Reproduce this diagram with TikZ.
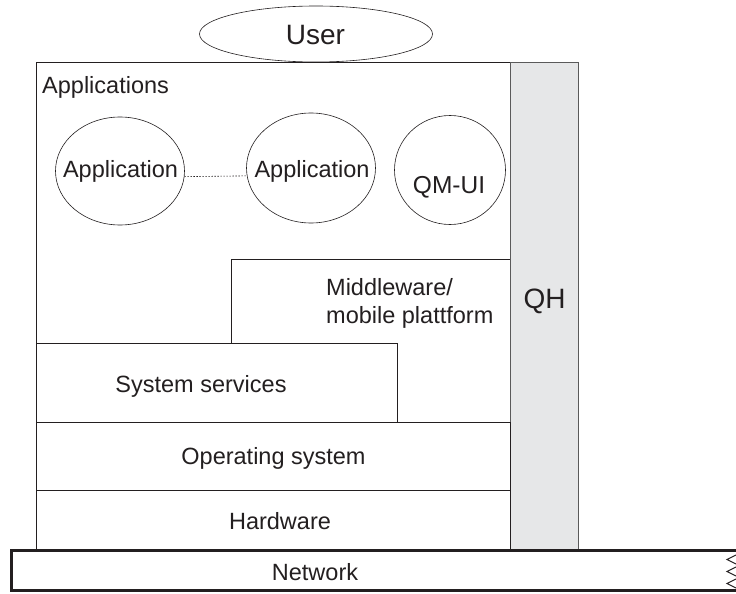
\documentclass[tikz,border=0pt]{standalone}
\usepackage{fontspec}
\setmainfont{Liberation Sans}
\usetikzlibrary{shapes.geometric}
\definecolor{qhfill}{HTML}{E6E7E8}
\definecolor{qhline}{HTML}{5A5A5A}
\definecolor{ink}{HTML}{231F20}
\tikzset{
  layer/.style={draw=ink, line width=0.9pt, fill=white, anchor=north west, inner sep=0pt},
  area/.style={anchor=north west, inner sep=0pt},
  edge/.style={draw=ink, line width=0.9pt},
  app/.style={draw=ink, line width=0.6pt, ellipse, inner sep=0pt},
  lbl/.style={inner sep=0pt, anchor=base, font=\fontsize{23.5}{28}\selectfont, text=ink},
  big/.style={inner sep=0pt, anchor=base, font=\fontsize{28}{32}\selectfont, text=ink},
}
\begin{document}
\begin{tikzpicture}[x=1pt,y=-1pt]
\useasboundingbox (0,0) rectangle (736,594);
% outer applications box
\node[layer, minimum width=474pt, minimum height=489pt] (apps) at (36,62) {};
% QH column
\node[draw=qhline, fill=qhfill, line width=0.9pt, anchor=north west, inner sep=0pt,
      minimum width=68pt, minimum height=489pt] (qh) at (510,62) {};
\node[big] (qht) at (544.5,308) {QH};
% middleware (open at the bottom)
\node[area, minimum width=279pt, minimum height=84pt] (mw) at (231,259) {};
\draw[edge] (mw.south west) -- (mw.north west) -- (mw.north east);
\node[lbl, anchor=base west] (mwt1) at (326,295) {Middleware/};
\node[lbl, anchor=base west] (mwt2) at (326,323) {mobile plattform};
% system services
\node[layer, minimum width=361pt, minimum height=79pt] (ss) at (36,343) {};
\node[lbl] (sst) at (201,392) {System services};
% operating system
\node[layer, minimum width=474pt, minimum height=68pt] (os) at (36,422) {};
\node[lbl] (ost) at (273.5,464) {Operating system};
% hardware
\node[layer, minimum width=474pt, minimum height=61pt] (hw) at (36,490) {};
\node[lbl] (hwt) at (280,529) {Hardware};
% applications label
\node[lbl, anchor=base west] (appst) at (42,93) {Applications};
% application ellipses
\node[app, minimum width=129pt, minimum height=108pt] (a1) at (120,171) {};
\node[app, minimum width=129pt, minimum height=110pt] (a2) at (311,168) {};
\node[app, minimum width=111pt, minimum height=109pt] (qm) at (450,170) {};
\node[lbl] (a1t) at (120.5,177) {Application};
\node[lbl] (a2t) at (312,177) {Application};
\node[lbl, font=\fontsize{24.5}{28}\selectfont] (qmt) at (449,193) {QM-UI};
\draw[ink, line width=0.6pt, dash pattern=on 1.5pt off 1.5pt] (a1.-5) -- (a2.187);
% user
\node[draw=ink, line width=0.6pt, ellipse, fill=white, minimum width=233pt, minimum height=56pt,
      inner sep=0pt] (user) at (316,34) {};
\node[big] (usert) at (315.5,45) {User};
% network
\coordinate (ntr) at (737,550.5);
\coordinate (nbr) at (737,590);
\node[lbl] (net) at (315,580) {Network};
\draw[ink, line width=3pt, line join=miter] (ntr) -- (11.5,550.5) -- (11.5,590) -- (nbr);
\draw[ink, line width=1pt] (736,555) -- (727,559.5) -- (736,564)
                           (736,567) -- (727,571.5) -- (736,576)
                           (736,579) -- (727,583.5) -- (736,588);
\end{tikzpicture}
\end{document}
